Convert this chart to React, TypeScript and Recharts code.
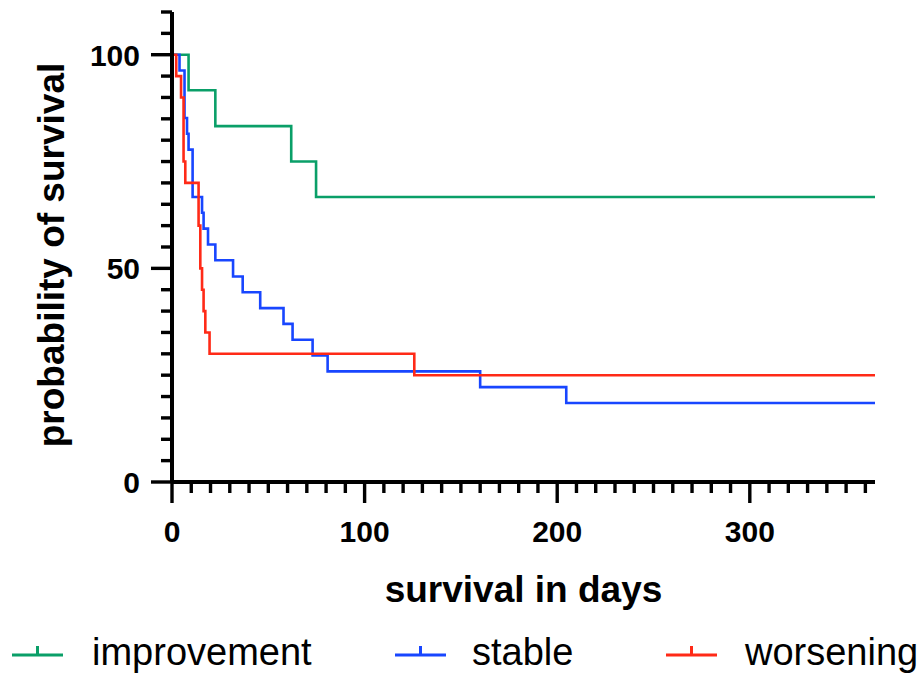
import React from 'react';
import { LineChart, Line, XAxis, YAxis, Legend, Label } from 'recharts';

// ---- data (Kaplan–Meier steps) ----
const improvementDays = [0, 8.6, 22.5, 61.9, 74.8, 365];
const improvementSurv = [100, 91.7, 83.3, 75, 66.7, 66.7];

const stableDays = [0, 3.9, 6.5, 7.8, 8.6, 10.7, 15.6, 16.4, 18.7, 22.5, 31.7, 36.7, 45.8, 57.9, 62.6, 73, 80.8, 160, 204.7, 365];
const stableSurv = [100, 96.3, 85.2, 81.5, 77.8, 66.7, 63, 59.3, 55.6, 51.9, 48.1, 44.4, 40.7, 37, 33.3, 29.6, 25.9, 22.2, 18.5, 18.5];

const worseningDays = [0, 2.2, 4.7, 6, 6.9, 13.8, 14.7, 15.6, 16.4, 17.3, 19.5, 125.8, 365];
const worseningSurv = [100, 95, 90, 75, 70, 60, 50, 45, 40, 35, 30, 25, 25];

const seriesNames = ['improvement', 'stable', 'worsening'];
const seriesColors = ['#0a9f68', '#1846ff', '#ff2a17'];

const xMajorTicks = [0, 100, 200, 300];
const xTickLabels = ['0', '100', '200', '300'];
const yMajorTicks = [0, 50, 100];
const yTickLabels = ['0', '50', '100'];
const xAllTicks = Array.from({ length: 37 }, (_, i) => i * 10);
const yAllTicks = Array.from({ length: 23 }, (_, i) => i * 5);

const xTitle = 'survival in days';
const yTitle = 'probability of survival';

const FONT = '"Liberation Sans", Arial, Helvetica, sans-serif';

const toPoints = (days: number[], surv: number[]) => days.map((d, i) => ({ x: d, y: surv[i] }));
const improvementData = toPoints(improvementDays, improvementSurv);
const stableData = toPoints(stableDays, stableSurv);
const worseningData = toPoints(worseningDays, worseningSurv);

const XTick = (props: any) => {
  const { x, y, payload } = props;
  const v = payload.value;
  const idx = xMajorTicks.indexOf(v);
  const major = idx >= 0;
  return (
    <g>
      <line x1={x} y1={y} x2={x} y2={y + (major ? 21 : 11)} stroke="#000" strokeWidth={3.4} />
      {major && (
        <text x={x} y={y + 60} textAnchor="middle" fontSize={30} fontWeight="bold" fontFamily={FONT} fill="#000">
          {xTickLabels[idx]}
        </text>
      )}
    </g>
  );
};

const YTick = (props: any) => {
  const { x, y, payload } = props;
  const v = payload.value;
  const idx = yMajorTicks.indexOf(v);
  const major = idx >= 0;
  return (
    <g>
      <line x1={x} y1={y} x2={x - (major ? 21 : 11)} y2={y} stroke="#000" strokeWidth={3.4} />
      {major && (
        <text x={x - 32} y={y + 11} textAnchor="end" fontSize={30} fontWeight="bold" fontFamily={FONT} fill="#000">
          {yTickLabels[idx]}
        </text>
      )}
    </g>
  );
};

const XTitle = (props: any) => {
  const vb = props.viewBox || { x: 172, y: 482, width: 703, height: 193 };
  return (
    <text x={vb.x + vb.width / 2} y={vb.y + 120} textAnchor="middle" fontSize={37} fontWeight="bold" fontFamily={FONT} fill="#000">
      {xTitle}
    </text>
  );
};

const YTitle = (props: any) => {
  const vb = props.viewBox || { x: 0, y: 12, width: 172, height: 470 };
  const bx = vb.x + 64;
  const cy = vb.y + vb.height / 2 + 8;
  return (
    <text x={bx} y={cy} transform={`rotate(-90, ${bx}, ${cy})`} textAnchor="middle" fontSize={37} fontWeight="bold" fontFamily={FONT} fill="#000">
      {yTitle}
    </text>
  );
};

const legendLineX = [12, 395, 666];
const legendTextX = [92, 472, 745];

const LegendContent = () => (
  <svg width={924} height={47} style={{ display: 'block' }}>
    {seriesNames.map((name, i) => (
      <g key={name}>
        <line x1={legendLineX[i]} y1={27} x2={legendLineX[i] + 51} y2={27} stroke={seriesColors[i]} strokeWidth={3} />
        <line x1={legendLineX[i] + 25.5} y1={27} x2={legendLineX[i] + 25.5} y2={18} stroke={seriesColors[i]} strokeWidth={3} />
        <text x={legendTextX[i]} y={37} fontSize={38} fontFamily={FONT} fill="#000">
          {name}
        </text>
      </g>
    ))}
  </svg>
);

export default function App() {
  return (
    <div style={{ position: 'absolute', left: 0, top: 0, width: 924, height: 675, background: '#fff' }}>
      <LineChart width={924} height={675} margin={{ top: 12, right: 49, bottom: 0, left: 0 }}>
        <XAxis
          type="number"
          dataKey="x"
          domain={[0, 365]}
          ticks={xAllTicks}
          interval={0}
          allowDataOverflow
          height={193}
          tickSize={0}
          tickMargin={0}
          tickLine={false}
          axisLine={{ stroke: '#000', strokeWidth: 4 }}
          tick={XTick}
        >
          <Label content={XTitle} />
        </XAxis>
        <YAxis
          type="number"
          dataKey="y"
          domain={[0, 110]}
          ticks={yAllTicks}
          interval={0}
          allowDataOverflow
          width={172}
          tickSize={0}
          tickMargin={0}
          tickLine={false}
          axisLine={{ stroke: '#000', strokeWidth: 4 }}
          tick={YTick}
        >
          <Label content={YTitle} />
        </YAxis>
        <Line data={improvementData} dataKey="y" name={seriesNames[0]} type="stepAfter" stroke={seriesColors[0]} strokeWidth={2.6} dot={false} activeDot={false} isAnimationActive={false} />
        <Line data={stableData} dataKey="y" name={seriesNames[1]} type="stepAfter" stroke={seriesColors[1]} strokeWidth={2.6} dot={false} activeDot={false} isAnimationActive={false} />
        <Line data={worseningData} dataKey="y" name={seriesNames[2]} type="stepAfter" stroke={seriesColors[2]} strokeWidth={2.6} dot={false} activeDot={false} isAnimationActive={false} />
        <Legend
          layout="horizontal"
          verticalAlign="middle"
          align="center"
          content={LegendContent}
          wrapperStyle={{ top: 628, left: 0, width: 924, height: 47 }}
        />
      </LineChart>
    </div>
  );
}
